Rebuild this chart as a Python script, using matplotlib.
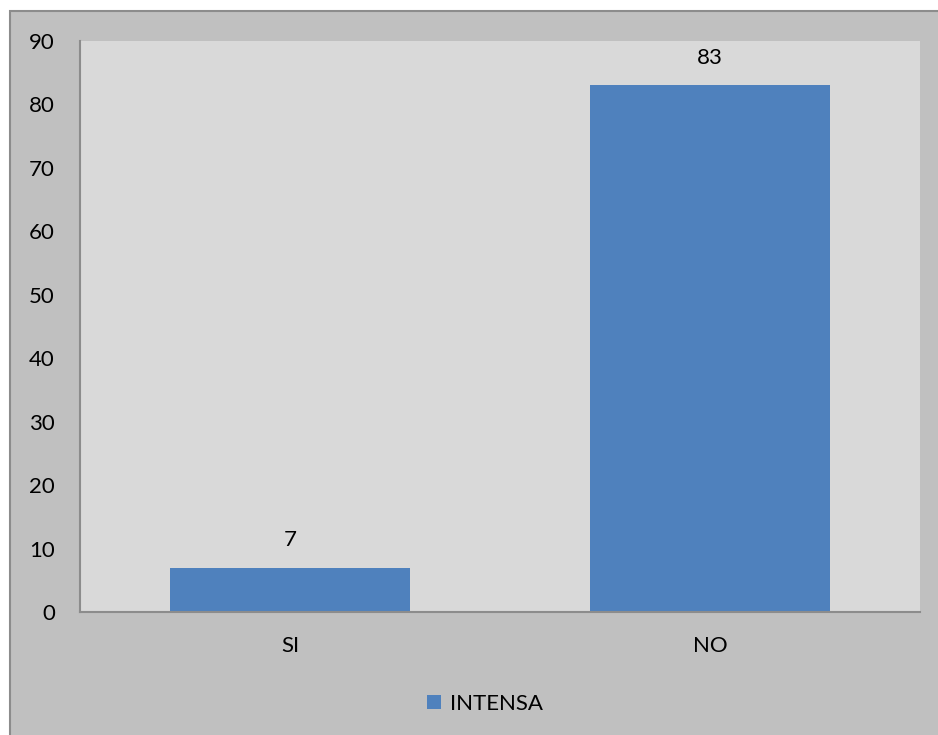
import matplotlib
matplotlib.use("Agg")
import matplotlib.pyplot as plt
from matplotlib.patches import Rectangle

categories = ["SI", "NO"]
values = [7, 83]
series_name = "INTENSA"
yticks = [0, 10, 20, 30, 40, 50, 60, 70, 80, 90]

plt.rcParams["font.family"] = ["Lato", "DejaVu Sans"]
FS = 16

W, H = 938, 735
fig = plt.figure(figsize=(W / 100, H / 100), dpi=100)
fig.patch.set_facecolor("white")

# chart frame: grey panel with a darker outline on top and left
frame = Rectangle((10 / W, -0.1), 1.2, 1.1 - 11 / H, transform=fig.transFigure,
                  facecolor="#c0c0c0", edgecolor="#8c8c8c", linewidth=1.5,
                  zorder=-10)
fig.patches.append(frame)

ax = fig.add_axes([80 / W, 1 - 612 / H, (920 - 80) / W, (612 - 41) / H])
ax.set_facecolor("#d9d9d9")

x = range(len(categories))
bars = ax.bar(x, values, width=0.571, color="#4f81bd", label=series_name,
              zorder=2)
for b, v in zip(bars, values):
    ax.annotate(str(v), (b.get_x() + b.get_width() / 2, v),
                xytext=(0, 20), textcoords="offset points",
                ha="center", va="center", fontsize=FS, color="black")

ax.set_xlim(-0.5, len(categories) - 0.5)
ax.set_ylim(0, 90)
ax.set_yticks(yticks)
ax.set_xticks(list(x))
ax.set_xticklabels(categories)
ax.tick_params(axis="both", length=0, labelsize=FS, colors="black")
ax.tick_params(axis="y", pad=18)
ax.tick_params(axis="x", pad=17)

for side in ("top", "right"):
    ax.spines[side].set_visible(False)
for side in ("left", "bottom"):
    ax.spines[side].set_color("#8c8c8c")
    ax.spines[side].set_linewidth(1.5)

leg = fig.legend(handles=[bars], labels=[series_name], loc="center",
                 bbox_to_anchor=(485 / W, 1 - 704 / H), frameon=False,
                 fontsize=FS, handlelength=0.6, handleheight=0.6,
                 handletextpad=0.4)

fig.savefig("out.png", dpi=100, facecolor=fig.get_facecolor())
